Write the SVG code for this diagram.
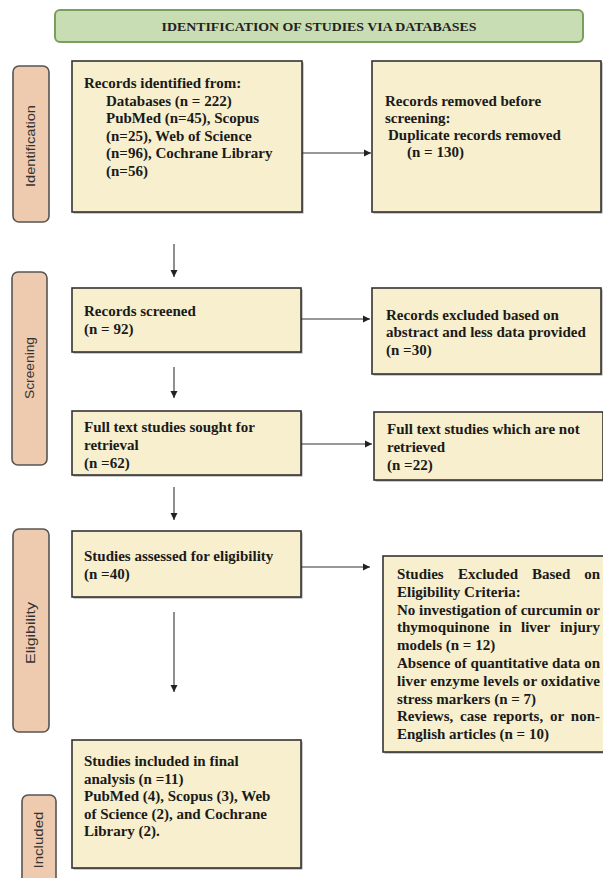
<svg xmlns="http://www.w3.org/2000/svg" width="603" height="878" viewBox="0 0 603 878">
<style>
.box{fill:#F7EFCD;stroke:#333;stroke-width:1.6}
.shadow{fill:#9a9a9a}
.lab{fill:#EECAAE;stroke:#555;stroke-width:1.6}
.t{font-family:"Liberation Serif","Times New Roman",serif;font-weight:bold;font-size:15px;fill:#1a1a1a}
.lt{font-family:"Liberation Sans",Arial,sans-serif;font-size:12px;fill:#333;text-anchor:middle}
.c{stroke:#333;stroke-width:1.1;fill:none}
</style>
<defs>
<marker id="ah" markerUnits="userSpaceOnUse" markerWidth="8" markerHeight="8" refX="7" refY="4" orient="auto">
<path d="M0,0.5 L7,4 L0,7.5 z" fill="#222"/>
</marker>
</defs>
<rect width="603" height="878" fill="#fff"/>

<g id="title">
<rect x="55" y="10" width="528" height="32" rx="5" fill="#C8DDB3" stroke="#7A9E5C" stroke-width="2"/>
<text x="319" y="31" text-anchor="middle" font-family="Liberation Serif,serif" font-weight="bold" font-size="13.5" fill="#222" textLength="315" lengthAdjust="spacingAndGlyphs">IDENTIFICATION OF STUDIES VIA DATABASES</text>
</g>

<g id="label-identification">
<rect class="lab" x="13" y="66" width="36" height="156" rx="6"/>
<text class="lt" transform="translate(35,146) rotate(-90)" textLength="82" lengthAdjust="spacingAndGlyphs">Identification</text>
</g>
<g id="label-screening">
<rect class="lab" x="12" y="272" width="35" height="193" rx="6"/>
<text class="lt" transform="translate(34,368) rotate(-90)" textLength="62" lengthAdjust="spacingAndGlyphs">Screening</text>
</g>
<g id="label-eligibility">
<rect class="lab" x="13" y="529" width="36" height="203" rx="6"/>
<text class="lt" transform="translate(35,633) rotate(-90)" textLength="62" lengthAdjust="spacingAndGlyphs">Eligibility</text>
</g>
<g id="label-included">
<rect class="lab" x="22" y="795" width="34" height="100" rx="6"/>
<text class="lt" transform="translate(43,840) rotate(-90)" textLength="57" lengthAdjust="spacingAndGlyphs">Included</text>
</g>

<g id="records-identified">
<rect class="shadow" x="73.5" y="62.5" width="230" height="151"/>
<rect class="box" x="72" y="61" width="230" height="151"/>
<text class="t" x="84" y="88">Records identified from:</text>
<text class="t" x="106" y="105.6">Databases (n = 222)</text>
<text class="t" x="106" y="123.2">PubMed (n=45), Scopus</text>
<text class="t" x="106" y="140.8">(n=25), Web of Science</text>
<text class="t" x="106" y="158.4">(n=96), Cochrane Library</text>
<text class="t" x="106" y="176">(n=56)</text>
</g>

<g id="records-removed">
<rect class="shadow" x="373.5" y="62.5" width="229" height="151"/>
<rect class="box" x="372" y="61" width="229" height="151"/>
<text class="t" x="385" y="106">Records removed before</text>
<text class="t" x="385" y="123">screening:</text>
<text class="t" x="388" y="140">Duplicate records removed</text>
<text class="t" x="407" y="157">(n = 130)</text>
</g>

<g id="records-screened">
<rect class="shadow" x="73.5" y="289.5" width="229" height="64"/>
<rect class="box" x="72" y="288" width="229" height="64"/>
<text class="t" x="84" y="316">Records screened</text>
<text class="t" x="84" y="334">(n = 92)</text>
</g>

<g id="records-excluded">
<rect class="shadow" x="373.5" y="289.5" width="229" height="86"/>
<rect class="box" x="372" y="288" width="229" height="86"/>
<text class="t" x="386" y="320">Records excluded based on</text>
<text class="t" x="386" y="337">abstract and less data provided</text>
<text class="t" x="386" y="355">(n =30)</text>
</g>

<g id="full-text-sought">
<rect class="shadow" x="73.5" y="412.5" width="229" height="64"/>
<rect class="box" x="72" y="411" width="229" height="64"/>
<text class="t" x="84" y="432">Full text studies sought for</text>
<text class="t" x="84" y="450">retrieval</text>
<text class="t" x="84" y="468">(n =62)</text>
</g>

<g id="not-retrieved">
<rect class="shadow" x="375.5" y="413.5" width="229" height="68"/>
<rect class="box" x="374" y="412" width="229" height="68"/>
<text class="t" x="387" y="434">Full text studies which are not</text>
<text class="t" x="387" y="452">retrieved</text>
<text class="t" x="387" y="470">(n =22)</text>
</g>

<g id="assessed-eligibility">
<rect class="shadow" x="73.5" y="532.5" width="229" height="66"/>
<rect class="box" x="72" y="531" width="229" height="66"/>
<text class="t" x="84" y="561">Studies assessed for eligibility</text>
<text class="t" x="84" y="579">(n =40)</text>
</g>

<g id="excluded-eligibility">
<rect class="shadow" x="384.5" y="557.5" width="230" height="196"/>
<rect class="box" x="383" y="556" width="230" height="196"/>
<text class="t" x="397" y="579">Studies</text>
<text class="t" x="458" y="579">Excluded</text>
<text class="t" x="532" y="579">Based</text>
<text class="t" x="600" y="579" text-anchor="end">on</text>
<text class="t" x="397" y="596.8">Eligibility Criteria:</text>
<text class="t" x="397" y="614.6" textLength="203" lengthAdjust="spacing">No investigation of curcumin or</text>
<text class="t" x="397" y="632.4">thymoquinone</text>
<text class="t" x="499" y="632.4">in</text>
<text class="t" x="521" y="632.4">liver</text>
<text class="t" x="600" y="632.4" text-anchor="end">injury</text>
<text class="t" x="397" y="650.2">models (n = 12)</text>
<text class="t" x="397" y="668" textLength="203" lengthAdjust="spacing">Absence of quantitative data on</text>
<text class="t" x="397" y="685.8" textLength="203" lengthAdjust="spacing">liver enzyme levels or oxidative</text>
<text class="t" x="397" y="703.6">stress markers (n = 7)</text>
<text class="t" x="397" y="721.4">Reviews,</text>
<text class="t" x="460" y="721.4">case</text>
<text class="t" x="493" y="721.4">reports,</text>
<text class="t" x="550" y="721.4">or</text>
<text class="t" x="600" y="721.4" text-anchor="end">non-</text>
<text class="t" x="397" y="739.2">English articles (n = 10)</text>
</g>

<g id="included-final">
<rect class="shadow" x="73.5" y="741.5" width="229" height="128"/>
<rect class="box" x="72" y="740" width="229" height="128"/>
<text class="t" x="84" y="766">Studies included in final</text>
<text class="t" x="84" y="783.5">analysis (n =11)</text>
<text class="t" x="84" y="801">PubMed (4), Scopus (3), Web</text>
<text class="t" x="84" y="818.5">of Science (2), and Cochrane</text>
<text class="t" x="84" y="836">Library (2).</text>
</g>

<g id="connectors">
<line class="c" x1="302" y1="153" x2="371" y2="153" marker-end="url(#ah)"/>
<line class="c" x1="174" y1="244" x2="174" y2="277" marker-end="url(#ah)"/>
<line class="c" x1="301" y1="319" x2="370" y2="319" marker-end="url(#ah)"/>
<line class="c" x1="174" y1="367" x2="174" y2="398" marker-end="url(#ah)"/>
<line class="c" x1="301" y1="444" x2="372" y2="444" marker-end="url(#ah)"/>
<line class="c" x1="174" y1="487" x2="174" y2="520" marker-end="url(#ah)"/>
<line class="c" x1="301" y1="567" x2="370" y2="567" marker-end="url(#ah)"/>
<line class="c" x1="174" y1="612" x2="174" y2="692" marker-end="url(#ah)"/>
</g>
</svg>
